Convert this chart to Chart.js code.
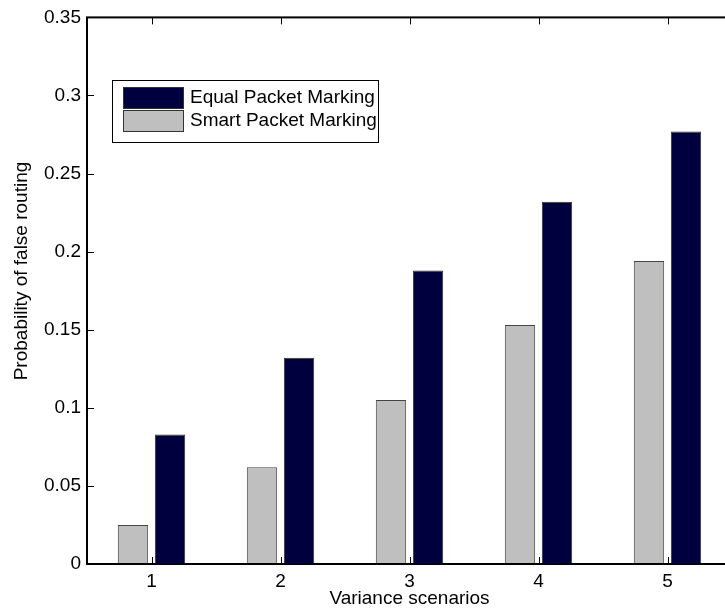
<!DOCTYPE html>
<html>
<head>
<meta charset="utf-8">
<script src="https://cdn.jsdelivr.net/npm/chart.js@4"></script>
<style>
  html, body { margin: 0; padding: 0; background: #fff; overflow: hidden; }
  #wrap { position: relative; width: 740px; height: 615px; }
  canvas { display: block; }
</style>
</head>
<body>
<div id="wrap"><canvas id="c" width="740" height="615" style="width:740px;height:615px"></canvas></div>
<script>
// Probability of false routing per variance scenario
const scenarios = ['1', '2', '3', '4', '5'];
const smartMarking = [0.025, 0.062, 0.105, 0.153, 0.194];
const equalMarking = [0.083, 0.132, 0.188, 0.232, 0.277];
const yTickLabels = ['0', '0.05', '0.1', '0.15', '0.2', '0.25', '0.3', '0.35'];
const yTitle = 'Probability of false routing';
const xTitle = 'Variance scenarios';

const FONT = "'Liberation Sans', Arial, Helvetica, sans-serif";
const FONT_SIZE = 19;

// Boxed frame with inward tick marks on all four sides
const frame = {
  id: 'frame',
  afterDatasetsDraw(chart) {
    const { ctx, chartArea: a, scales: { x, y } } = chart;
    const tick = 7;
    ctx.save();
    ctx.strokeStyle = '#000';
    ctx.lineWidth = 1;
    ctx.beginPath();
    x.ticks.forEach((t, i) => {
      const px = Math.round(x.getPixelForTick(i)) + 0.5;
      ctx.moveTo(px, a.bottom); ctx.lineTo(px, a.bottom - tick);
      ctx.moveTo(px, a.top); ctx.lineTo(px, a.top + tick);
    });
    y.ticks.forEach((t, i) => {
      const py = Math.round(y.getPixelForTick(i)) + 0.5;
      ctx.moveTo(a.left, py); ctx.lineTo(a.left + tick, py);
      ctx.moveTo(a.right, py); ctx.lineTo(a.right - tick, py);
    });
    ctx.stroke();
    ctx.lineWidth = 2;
    ctx.strokeRect(a.left, a.top, a.right - a.left, a.bottom - a.top);
    ctx.restore();
  }
};

// Vertical axis title, centred a little above the middle of the axis
const yAxisTitle = {
  id: 'yAxisTitle',
  afterDraw(chart) {
    const ctx = chart.ctx;
    ctx.save();
    ctx.translate(22, 271);
    ctx.rotate(-Math.PI / 2);
    ctx.font = FONT_SIZE + 'px ' + FONT;
    ctx.fillStyle = '#000';
    ctx.textAlign = 'center';
    ctx.textBaseline = 'middle';
    ctx.fillText(yTitle, 0, 0);
    ctx.restore();
  }
};

// Legend box drawn inside the plot area
const boxLegend = {
  id: 'boxLegend',
  afterDraw(chart) {
    const ctx = chart.ctx;
    const sets = chart.data.datasets.slice().reverse();
    const bx = 112, by = 80, bw = 266, bh = 62;
    ctx.save();
    ctx.fillStyle = '#fff';
    ctx.fillRect(bx, by, bw, bh);
    ctx.strokeStyle = '#000';
    ctx.lineWidth = 1;
    ctx.strokeRect(bx + 0.5, by + 0.5, bw, bh);
    ctx.font = FONT_SIZE + 'px ' + FONT;
    ctx.textBaseline = 'middle';
    ctx.textAlign = 'left';
    sets.forEach((ds, i) => {
      const sy = by + 7 + i * 23;
      ctx.fillStyle = ds.backgroundColor;
      ctx.fillRect(123, sy, 60, 21);
      ctx.strokeStyle = '#333';
      ctx.strokeRect(123.5, sy + 0.5, 60, 21);
      ctx.fillStyle = '#000';
      ctx.fillText(ds.label, 190, sy + 11);
    });
    ctx.restore();
  }
};

new Chart(document.getElementById('c'), {
  type: 'bar',
  data: {
    labels: scenarios,
    datasets: [
      {
        label: 'Smart Packet Marking',
        data: smartMarking,
        backgroundColor: '#bfbfbf',
        borderColor: '#444',
        borderWidth: 1
      },
      {
        label: 'Equal Packet Marking',
        data: equalMarking,
        backgroundColor: '#00003f',
        borderColor: '#333',
        borderWidth: 1
      }
    ]
  },
  options: {
    responsive: false,
    animation: false,
    devicePixelRatio: 1,
    layout: { padding: { top: 15, right: 8, left: 0, bottom: 0 } },
    datasets: { bar: { categoryPercentage: 0.574, barPercentage: 0.82 } },
    plugins: { legend: { display: false }, tooltip: { enabled: false } },
    scales: {
      x: {
        offset: true,
        grid: { display: false, drawTicks: false },
        border: { display: false },
        ticks: { color: '#000', padding: 6, font: { family: FONT, size: FONT_SIZE } },
        title: {
          display: true, text: xTitle, color: '#000',
          font: { family: FONT, size: FONT_SIZE }, padding: { top: 0, bottom: 5 }
        },
        afterFit(s) { s.height = 51; }
      },
      y: {
        min: 0, max: 0.35,
        ticks: {
          stepSize: 0.05, color: '#000', padding: 6,
          font: { family: FONT, size: FONT_SIZE },
          callback: (v, i) => yTickLabels[i]
        },
        grid: { display: false, drawTicks: false },
        border: { display: false },
        afterFit(s) { s.width = 87; }
      }
    }
  },
  plugins: [frame, yAxisTitle, boxLegend]
});
</script>
</body>
</html>
